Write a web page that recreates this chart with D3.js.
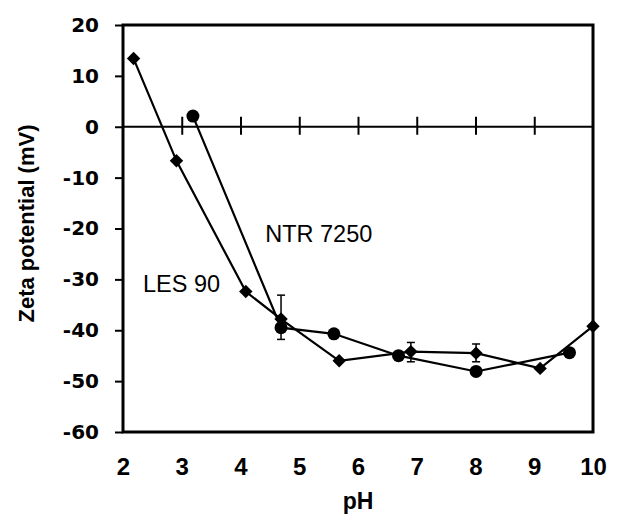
<!DOCTYPE html>
<html>
<head>
<meta charset="utf-8">
<script src="https://cdn.jsdelivr.net/npm/d3@7"></script>
<style>
  body { margin: 0; background: #fff; }
  .axis .domain { display: none; }
  .axis line { stroke: #000; stroke-width: 2px; }
  .y-axis text { font-family: "DejaVu Sans", sans-serif; font-weight: bold; font-size: 20px; fill: #000; }
  .x-axis text { font-family: "Liberation Sans", Arial, sans-serif; font-weight: bold; font-size: 24px; fill: #000; }
  .axlabel { font-family: "Liberation Sans", Arial, sans-serif; font-weight: bold; fill: #000; }
  .note { font-family: "Liberation Sans", Arial, sans-serif; font-size: 23.5px; fill: #000; }
</style>
</head>
<body>
<div class="chart"></div>
<script>
// LES 90 (diamonds)
const lesPH = [2.18, 2.91, 4.09, 4.69, 5.68, 6.90, 8.01, 9.10, 10.0];
const lesZeta = [13.4, -6.7, -32.4, -37.8, -46.0, -44.2, -44.5, -47.5, -39.2];
// NTR 7250 (circles)
const ntrPH = [3.19, 4.69, 5.59, 6.69, 8.01, 9.60];
const ntrZeta = [2.1, -39.5, -40.7, -45.0, -48.1, -44.4];
// error bars
const errPH = [4.69, 6.90, 8.01];
const errHigh = [-33.1, -42.4, -42.7];
const errLow = [-41.8, -46.2, -46.2];

const xTicks = [2, 3, 4, 5, 6, 7, 8, 9, 10];
const yTicks = [20, 10, 0, -10, -20, -30, -40, -50, -60];
const zeroTicks = [3, 4, 5, 6, 7, 8, 9];

const margin = {top: 25, right: 24, bottom: 87, left: 123};
const width = 617 - margin.left - margin.right,
      height = 519 - margin.top - margin.bottom;

const svg = d3.select(".chart").append("svg")
    .attr("width", 617)
    .attr("height", 519)
  .append("g")
    .attr("transform", `translate(${margin.left},${margin.top})`);

const x = d3.scaleLinear().domain([2, 10]).range([0, width]);
const y = d3.scaleLinear().domain([-60, 20]).range([height, 0]);

const les = lesPH.map((p, i) => ({ph: p, z: lesZeta[i]}));
const ntr = ntrPH.map((p, i) => ({ph: p, z: ntrZeta[i]}));

// axes
svg.append("g")
    .attr("class", "axis y-axis")
    .call(d3.axisLeft(y).tickValues(yTicks).tickSize(8).tickPadding(16).tickFormat(d => d));

svg.append("g")
    .attr("class", "axis x-axis")
    .attr("transform", `translate(0,${height})`)
    .call(d3.axisBottom(x).tickValues(xTicks).tickSize(0).tickPadding(26).tickFormat(d => d));

// zero line with crossing ticks
svg.append("line")
    .attr("x1", 0).attr("x2", width)
    .attr("y1", y(0)).attr("y2", y(0))
    .attr("stroke", "#000").attr("stroke-width", 2);
svg.append("g")
    .attr("class", "axis")
    .attr("transform", `translate(0,${y(0)})`)
    .call(d3.axisBottom(x).tickValues(zeroTicks).tickSize(8).tickFormat(""));
svg.append("g")
    .attr("class", "axis")
    .attr("transform", `translate(0,${y(0)})`)
    .call(d3.axisTop(x).tickValues(zeroTicks).tickSize(10).tickFormat(""));

// frame
svg.append("rect")
    .attr("width", width).attr("height", height)
    .attr("fill", "none").attr("stroke", "#000").attr("stroke-width", 3);

// axis titles
svg.append("text")
    .attr("class", "axlabel")
    .attr("x", x(6)).attr("y", height + 77)
    .attr("text-anchor", "middle")
    .style("font-size", "23px")
    .text("pH");

svg.append("text")
    .attr("class", "axlabel")
    .attr("transform", `translate(${-123 + 34},${height / 2 - 5}) rotate(-90)`)
    .attr("text-anchor", "middle")
    .style("font-size", "22px")
    .text("Zeta potential (mV)");

const line = d3.line().x(d => x(d.ph)).y(d => y(d.z));

svg.append("path").datum(les)
    .attr("fill", "none").attr("stroke", "#000").attr("stroke-width", 2.2)
    .attr("d", line);
svg.append("path").datum(ntr)
    .attr("fill", "none").attr("stroke", "#000").attr("stroke-width", 2.2)
    .attr("d", line);

// error bars
const errs = errPH.map((p, i) => ({ph: p, hi: errHigh[i], lo: errLow[i]}));
const eb = svg.append("g").attr("stroke", "#000").attr("stroke-width", 1.5);
eb.selectAll(".v").data(errs).join("line")
    .attr("x1", d => x(d.ph)).attr("x2", d => x(d.ph))
    .attr("y1", d => y(d.hi)).attr("y2", d => y(d.lo));
eb.selectAll(".t").data(errs).join("line")
    .attr("x1", d => x(d.ph) - 4).attr("x2", d => x(d.ph) + 4)
    .attr("y1", d => y(d.hi)).attr("y2", d => y(d.hi));
eb.selectAll(".b").data(errs).join("line")
    .attr("x1", d => x(d.ph) - 4).attr("x2", d => x(d.ph) + 4)
    .attr("y1", d => y(d.lo)).attr("y2", d => y(d.lo));

// markers
svg.append("g").selectAll("path").data(les).join("path")
    .attr("transform", d => `translate(${x(d.ph)},${y(d.z)})`)
    .attr("d", d3.symbol(d3.symbolDiamond2, 115))
    .attr("fill", "#000");

svg.append("g").selectAll("circle").data(ntr).join("circle")
    .attr("cx", d => x(d.ph)).attr("cy", d => y(d.z))
    .attr("r", 6.5)
    .attr("fill", "#000");

// labels
svg.append("text").attr("class", "note")
    .attr("x", x(4.42)).attr("y", y(-22.6))
    .text("NTR 7250");
svg.append("text").attr("class", "note")
    .attr("x", x(2.34)).attr("y", y(-32.4))
    .text("LES 90");
</script>
</body>
</html>
